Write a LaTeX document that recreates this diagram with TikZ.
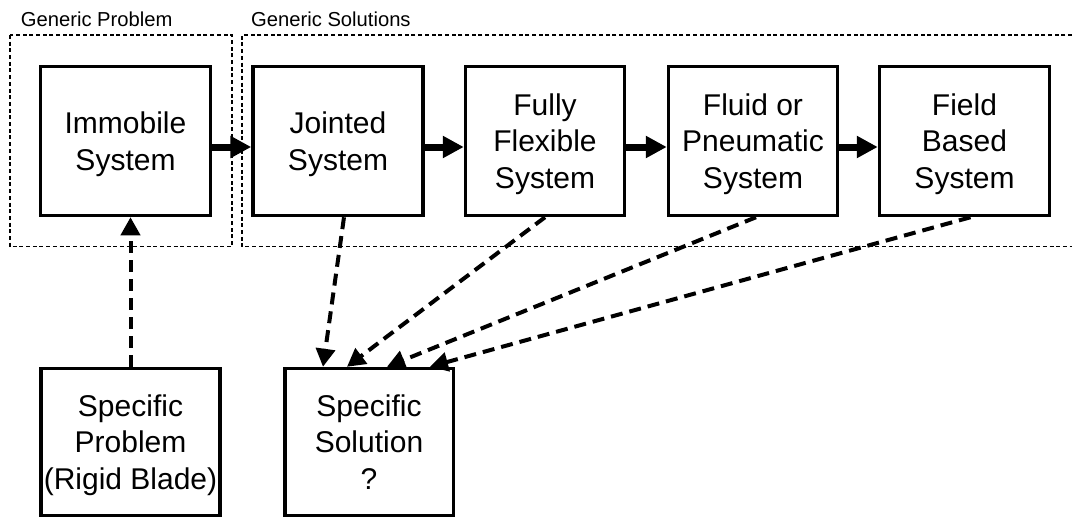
\documentclass[tikz,border=0pt]{standalone}
\usepackage{fontspec}
\setmainfont{Liberation Sans}
\usepackage{tikz}
\usetikzlibrary{shapes,arrows.meta}

\begin{document}
\begin{tikzpicture}[x=1pt,y=-1pt,
		blk/.style={draw,line width=3.5pt,align=center,inner sep=0pt,text depth=0pt,minimum height=149pt,font=\fontsize{30}{36.7}\selectfont},
		lbl/.style={anchor=base west,inner sep=0pt,font=\fontsize{20.2}{24}\selectfont},
		grp/.style={line width=1.3pt,dash pattern=on 4pt off 2.7pt},
		flow/.style={line width=7pt,-{Triangle[width=21pt,length=21pt]}},
		link/.style={line width=4pt,dash pattern=on 12pt off 7pt,-{Triangle[width=19pt,length=18pt]}}]
			\useasboundingbox (0,0) rectangle (1072,519);
			\draw[grp] (10,35) rectangle (232,246.7);
			\draw[grp] (1072,35)--(242,35)--(242,246.7)--(1072,246.7);
			\node[lbl] (gprob) at (20.7,26.7) {Generic Problem};
			\node[lbl] (gsol) at (251,26.7) {Generic Solutions};
			\node[blk,minimum width=170pt] (imm) at (125.5,141) {Immobile\\System};
			\node[blk,minimum width=170pt] (joint) at (338,141) {Jointed\\System};
			\node[blk,minimum width=159pt] (flex) at (545,141) {Fully\\Flexible\\System};
			\node[blk,minimum width=169pt] (fluid) at (753,141) {Fluid or\\Pneumatic\\System};
			\node[blk,minimum width=170pt] (field) at (964.5,141) {Field\\Based\\System};
			\node[blk,minimum width=179pt,minimum height=147pt] (prob) at (130.5,442) {Specific\\Problem\\(Rigid Blade)};
			\node[blk,minimum width=168.5pt,minimum height=147pt] (sol) at (369,442) {Specific\\Solution\\?};
			\draw[flow] ([yshift=-6pt]imm.east)--([yshift=-6pt]joint.west);
			\draw[flow] ([yshift=-6pt]joint.east)--([yshift=-6pt]flex.west);
			\draw[flow] ([yshift=-6pt]flex.east)--([yshift=-6pt]fluid.west);
			\draw[flow] ([yshift=-6pt]fluid.east)--([yshift=-6pt]field.west);
			\draw[link] (prob.north)--(prob.north |- imm.south);
			\draw[link] ([xshift=6pt]joint.south)--([xshift=-46pt]sol.north);
			\draw[link] (flex.south)--([xshift=-22pt]sol.north);
			\draw[link] ([xshift=3pt]fluid.south)--([xshift=18pt]sol.north);
			\draw[link] ([xshift=6pt]field.south)--([xshift=61pt]sol.north);
		\end{tikzpicture}
\end{document}
